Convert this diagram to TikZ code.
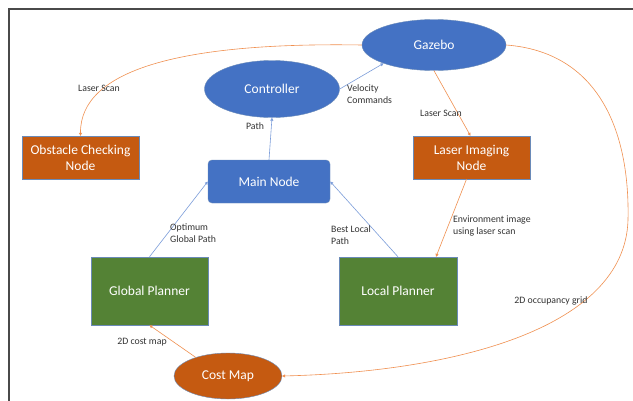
\documentclass[tikz,border=0pt]{standalone}
\usepackage{fontspec}
\setmainfont{Carlito}
\usetikzlibrary{shapes.geometric,arrows.meta,calc}

\definecolor{nodeblue}{HTML}{4472C4}
\definecolor{nodeorange}{HTML}{C55A11}
\definecolor{nodegreen}{HTML}{548235}
\definecolor{edgeline}{HTML}{6A8AB8}
\definecolor{linkblue}{HTML}{7C9DDA}
\definecolor{linkorange}{HTML}{F09050}
\definecolor{framegray}{HTML}{4A4A4A}

\tikzset{
  blk/.style={draw=edgeline, line width=0.4pt, text=white,
    font=\fontsize{13.5}{16}\selectfont, align=center, inner sep=2pt},
  blueoval/.style={blk, ellipse, fill=nodeblue},
  orangeoval/.style={blk, ellipse, fill=nodeorange},
  orangebox/.style={blk, rectangle, fill=nodeorange},
  greenbox/.style={blk, rectangle, fill=nodegreen},
  bluebox/.style={blk, rectangle, rounded corners=4pt, fill=nodeblue},
  bluelink/.style={draw=linkblue, line width=0.6pt,
    -{Triangle[length=3pt,width=3pt]}},
  orangelink/.style={draw=linkorange, line width=0.6pt,
    -{Triangle[length=3pt,width=3pt]}},
  lbl/.style={text=black!80, font=\fontsize{9.8}{12.5}\selectfont,
    align=left, inner sep=0pt}
}

\begin{document}
\begin{tikzpicture}[x=1pt, y=-1pt]
  \useasboundingbox (0,0) rectangle (633,400);
  \fill[white] (0,0) rectangle (633,400);

  % frame
  \draw[framegray, line width=1.8pt] (9,401) -- (9,9) -- (634,9);

  % nodes
  \node[blueoval, minimum width=144pt, minimum height=51pt] (gazebo) at (434,45) {Gazebo};
  \node[blueoval, minimum width=135pt, minimum height=57pt] (ctrl) at (272,89) {Controller};
  \node[orangebox, minimum width=117pt, minimum height=43pt] (obst) at (80.5,157.5) {Obstacle Checking\\Node};
  \node[bluebox, minimum width=122pt, minimum height=43pt] (main) at (269,181.5) {Main Node};
  \node[orangebox, minimum width=117pt, minimum height=43pt] (laser) at (471.5,157.5) {Laser Imaging\\Node};
  \node[greenbox, minimum width=117pt, minimum height=68pt] (global) at (149.5,291) {Global Planner};
  \node[greenbox, minimum width=118pt, minimum height=68pt] (local) at (398,291) {Local Planner};
  \node[orangeoval, minimum width=108pt, minimum height=46pt] (cost) at (228,376) {Cost Map};

  % connectors
  \draw[bluelink] (main.north) -- (ctrl.south);
  \draw[bluelink] (ctrl.east) -- (gazebo.200);
  \draw[bluelink] (global.north) -- (main.west);
  \draw[bluelink] (local.north) -- (main.east);
  \draw[orangelink] (gazebo.south) -- ([xshift=-1pt]laser.north);
  \draw[orangelink] ([xshift=-5pt]laser.south) -- ([xshift=38pt]local.north);
  \draw[orangelink] (cost.150) -- (global.south);
  \draw[orangelink] (gazebo.west) .. controls (180,42) and (80,70) .. (obst.north);
  \draw[orangelink] (gazebo.east) .. controls (598,52) and (630,130) .. (628,220)
    .. controls (625,330) and (450,372) .. (cost.east);

  % labels
  \node[lbl] (l1) at (99,88) {Laser Scan};
  \node[lbl] (l2) at (255,126) {Path};
  \node[lbl, anchor=west] (l3) at (347,94) {Velocity\\Commands};
  \node[lbl] (l4) at (441,113) {Laser Scan};
  \node[lbl, anchor=west] (l5) at (453,226) {Environment image\\using laser scan};
  \node[lbl, anchor=west] (l6) at (170,233) {Optimum\\Global Path};
  \node[lbl, anchor=west] (l7) at (331,235) {Best Local\\Path};
  \node[lbl] (l8) at (142,342) {2D cost map};
  \node[lbl] (l9) at (551,301) {2D occupancy grid};
\end{tikzpicture}
\end{document}
